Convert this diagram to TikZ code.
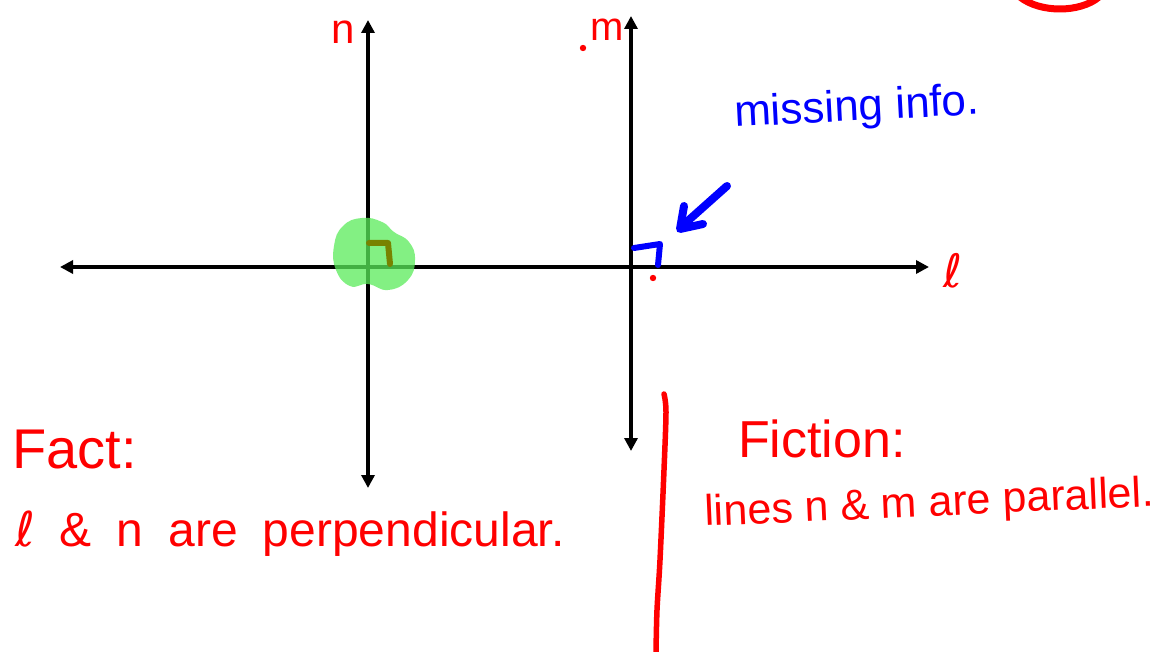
\documentclass[tikz,border=0pt]{standalone}
\usepackage{fontspec}
\setmainfont{Liberation Sans}
\newfontfamily\dvfont{DejaVu Sans}
\usetikzlibrary{arrows.meta}
\definecolor{inkred}{RGB}{255,0,0}
\definecolor{inkblue}{RGB}{0,0,255}
\definecolor{blobgreen}{RGB}{90,235,90}
\definecolor{marko}{RGB}{120,130,0}
\newcommand{\ellsym}{{\dvfont ℓ}}
\tikzset{
  axis/.style={line width=3.5pt, black, {Triangle[length=13pt,width=13pt]}-{Triangle[length=13pt,width=13pt]}},
  redtxt/.style={text=inkred, inner sep=0pt},
  bluetxt/.style={text=inkblue, inner sep=0pt},
  ink/.style={line width=6pt, line cap=round, line join=round}
}
\begin{document}
\begin{tikzpicture}[x=1pt,y=-1pt]
\useasboundingbox (0,0) rectangle (1165,652);
% axes
\coordinate (lW) at (60,267);
\coordinate (lE) at (929,267);
\coordinate (nN) at (368,20);
\coordinate (nS) at (368,488);
\coordinate (mN) at (631,16);
\coordinate (mS) at (631,451);
\draw[axis] (lW) -- (lE);
\draw[axis] (nS) -- (nN);
\draw[axis] (mS) -- (mN);
% green highlight blob
\fill[blobgreen, opacity=0.75] plot[smooth cycle, tension=0.8] coordinates {
 (334,246) (343,226) (362,218) (382,222) (394,232) (409,242) (415,260)
 (408,280) (388,290) (368,284) (350,286) (336,270)};
\draw[ink, marko] (369,243) -- (388,243) -- (390,264);
% blue right angle and arrow
\draw[ink, inkblue] (634,248) -- (660,244) -- (658,265);
\draw[line width=8pt, line cap=round, line join=round, inkblue] (727,186) -- (681,227);
\draw[line width=8pt, line cap=round, line join=round, inkblue] (684,206) -- (680,229) -- (703,224);
% red dots
\fill[inkred] (583,48) circle (3.2);
\fill[inkred] (653,278) circle (3.2);
% red divider
\draw[ink, line width=5.5pt, inkred] plot[smooth] coordinates {(664,394) (666,412) (664,470) (660,560) (657,610) (656,652)};
% red arc at top right
\draw[ink, line width=7pt, inkred] (1020,-3) .. controls (1040,13) and (1080,13) .. (1099,-3);
% labels
\node[redtxt, anchor=base] (labn) at (343,44) {\fontsize{42}{42}\selectfont n};
\node[redtxt, anchor=base] (labm) at (607,41) {\fontsize{40}{40}\selectfont m};
\node[redtxt, anchor=base] (labl) at (953,288) {\fontsize{46}{46}\selectfont \ellsym};
\node[bluetxt, anchor=base west, rotate=3] (miss) at (735,127) {\fontsize{44}{44}\selectfont missing info.};
\node[redtxt, anchor=base west] (fact) at (12,468) {\fontsize{56}{56}\selectfont Fact:};
\node[redtxt, anchor=base west] (factt) at (15,546) {\fontsize{48}{48}\selectfont \spaceskip=0.52em \ellsym{} \& n are perpendicular.};
\node[redtxt, anchor=base west] (fic) at (738,457) {\fontsize{52}{52}\selectfont Fiction:};
\node[redtxt, anchor=base west, rotate=2.5] (fict) at (705,526) {\fontsize{43}{43}\selectfont lines n \& m are parallel.};
\end{tikzpicture}
\end{document}
